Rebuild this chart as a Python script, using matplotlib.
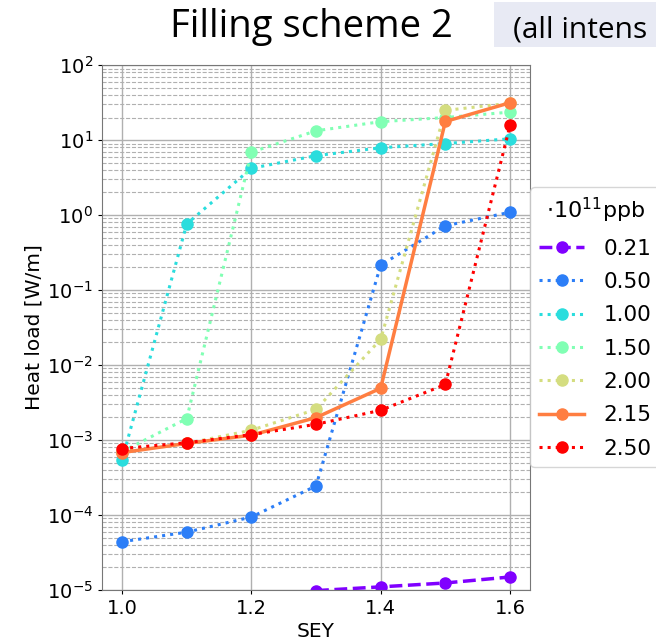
import numpy as np
import matplotlib
matplotlib.use("Agg")
import matplotlib.pyplot as plt
from matplotlib.patches import Rectangle

sey = [1.0, 1.1, 1.2, 1.3, 1.4, 1.5, 1.6]
intensities = ["0.21", "0.50", "1.00", "1.50", "2.00", "2.15", "2.50"]

hl_021 = [np.nan, np.nan, np.nan, 0.98e-5, 1.1e-5, 1.24e-5, 1.49e-5]
hl_050 = [4.4e-5, 5.9e-5, 9.4e-5, 2.44e-4, 0.215, 0.72, 1.09]
hl_100 = [5.4e-4, 0.76, 4.2, 6.2, 7.9, 9.0, 10.4]
hl_150 = [7.0e-4, 1.93e-3, 6.9, 13.3, 17.6, 20.0, 23.6]
hl_200 = [7.0e-4, 9.0e-4, 1.35e-3, 2.56e-3, 0.022, 24.9, 31.0]
hl_215 = [6.8e-4, 9.0e-4, 1.16e-3, 1.99e-3, 4.9e-3, 17.7, 31.5]
hl_250 = [7.7e-4, 9.2e-4, 1.18e-3, 1.62e-3, 2.49e-3, 5.5e-3, 15.7]

series = [hl_021, hl_050, hl_100, hl_150, hl_200, hl_215, hl_250]
styles = ["--", ":", ":", ":", ":", "-", ":"]
widths = [2.5, 2.2, 2.2, 2.2, 2.2, 2.5, 2.2]

colors = plt.cm.rainbow(np.linspace(0, 1, len(series)))

fig = plt.figure(figsize=(6.56, 6.44), dpi=100)
ax = fig.add_axes([0.1555, 0.0839, 0.6525, 0.815])

for vals, lab, ls, lw, c in zip(series, intensities, styles, widths, colors):
    ax.plot(sey, vals, ls=ls, lw=lw, marker="o", ms=8, color=c, label=lab)

ax.set_yscale("log")
ax.set_ylim(1e-5, 1e2)
ax.set_xlim(0.969, 1.631)
ax.set_xticks([1.0, 1.2, 1.4, 1.6])
ax.set_yticks([10.0**k for k in range(-5, 3)])
ax.grid(True, which="major", color="#b0b0b0", lw=1.0, ls="-")
ax.grid(True, which="minor", axis="y", color="#b0b0b0", lw=0.8, ls="--")
ax.tick_params(labelsize=14, length=3)
ax.tick_params(which="minor", length=0)
ax.set_xlabel("SEY", fontsize=14.5, labelpad=3)
ax.set_ylabel("Heat load [W/m]", fontsize=14.5, labelpad=2)
for s in ax.spines.values():
    s.set_color("#777777")

leg = ax.legend(title=r"$\cdot10^{11}$ppb", fontsize=15.5, title_fontsize=16,
                loc="upper left", bbox_to_anchor=(1.001, 0.767),
                handlelength=2.1, handletextpad=0.9, borderaxespad=0.0,
                labelspacing=0.62, frameon=True)

fig.patches.append(Rectangle((0.753, 0.927), 0.26, 0.07, transform=fig.transFigure,
                             fc="#e8eaf4", ec="none", zorder=0))
fig.text(0.475, 0.9425, "Filling scheme 2", fontsize=27.5, family="Open Sans",
         ha="center", va="baseline")
fig.text(0.782, 0.9425, "(all intens", fontsize=21.5, family="Open Sans",
         ha="left", va="baseline")

fig.savefig("out.png", dpi=100)
